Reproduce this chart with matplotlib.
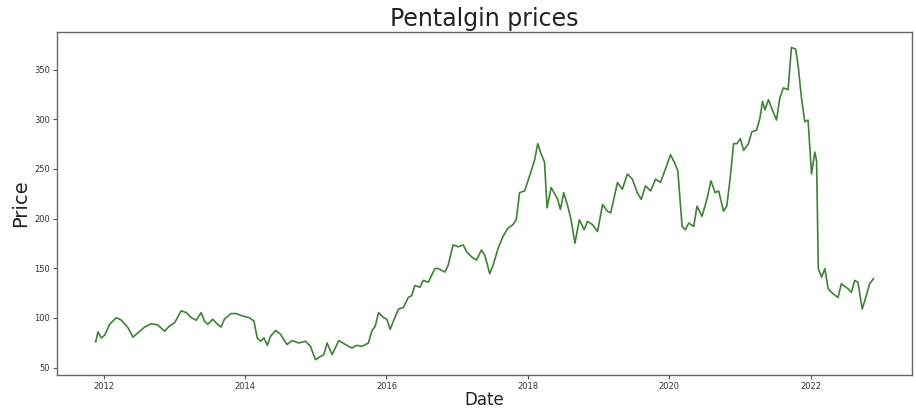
import matplotlib
matplotlib.use("Agg")
import matplotlib.pyplot as plt
import pandas as pd

dates = [
    "2011-11-20", "2011-12-02", "2011-12-19", "2012-01-06", "2012-02-01", "2012-03-06",
    "2012-04-01", "2012-05-05", "2012-05-31", "2012-06-25", "2012-07-30", "2012-09-02",
    "2012-10-06", "2012-11-10", "2012-12-05", "2013-01-01", "2013-02-04", "2013-03-02",
    "2013-03-28", "2013-04-23", "2013-05-18", "2013-06-04", "2013-06-21", "2013-07-17",
    "2013-08-03", "2013-08-29", "2013-09-15", "2013-10-19", "2013-11-14", "2013-12-18",
    "2014-01-21", "2014-02-15", "2014-03-04", "2014-03-22", "2014-04-08", "2014-04-25",
    "2014-05-12", "2014-06-07", "2014-07-03", "2014-08-05", "2014-08-31", "2014-10-05",
    "2014-11-08", "2014-12-04", "2014-12-30", "2015-01-25", "2015-02-11", "2015-02-28",
    "2015-03-26", "2015-04-29", "2015-06-03", "2015-07-07", "2015-08-01", "2015-08-27",
    "2015-09-30", "2015-10-17", "2015-11-04", "2015-11-21", "2015-12-17", "2016-01-03",
    "2016-01-20", "2016-02-06", "2016-03-03", "2016-03-28", "2016-04-23", "2016-05-10",
    "2016-05-27", "2016-06-22", "2016-07-09", "2016-08-04", "2016-08-21", "2016-09-07",
    "2016-09-24", "2016-10-29", "2016-11-15", "2016-12-10", "2017-01-06", "2017-02-01",
    "2017-02-18", "2017-03-16", "2017-04-10", "2017-05-06", "2017-05-23", "2017-06-18",
    "2017-07-05", "2017-07-31", "2017-08-25", "2017-09-20", "2017-10-16", "2017-11-02",
    "2017-11-19", "2017-12-15", "2018-01-10", "2018-02-04", "2018-02-21", "2018-03-10",
    "2018-03-28", "2018-04-10", "2018-05-01", "2018-06-04", "2018-06-18", "2018-07-05",
    "2018-07-26", "2018-08-12", "2018-09-01", "2018-09-24", "2018-10-19", "2018-11-05",
    "2018-12-01", "2018-12-27", "2019-01-22", "2019-02-16", "2019-03-05", "2019-04-09",
    "2019-05-04", "2019-05-30", "2019-06-25", "2019-07-20", "2019-08-10", "2019-09-01",
    "2019-09-27", "2019-10-23", "2019-11-17", "2019-12-13", "2020-01-08", "2020-01-28",
    "2020-02-15", "2020-03-08", "2020-03-25", "2020-04-11", "2020-05-07", "2020-05-24",
    "2020-06-19", "2020-07-14", "2020-08-04", "2020-08-26", "2020-09-13", "2020-10-08",
    "2020-10-25", "2020-11-11", "2020-11-29", "2020-12-16", "2021-01-03", "2021-01-20",
    "2021-02-14", "2021-03-03", "2021-03-28", "2021-04-14", "2021-04-28", "2021-05-10",
    "2021-05-28", "2021-06-14", "2021-07-09", "2021-07-26", "2021-08-13", "2021-09-07",
    "2021-09-24", "2021-10-16", "2021-10-29", "2021-11-15", "2021-12-02", "2021-12-19",
    "2022-01-06", "2022-01-23", "2022-02-01", "2022-02-10", "2022-02-27", "2022-03-16",
    "2022-04-02", "2022-04-28", "2022-05-23", "2022-06-09", "2022-07-14", "2022-07-31",
    "2022-08-17", "2022-09-03", "2022-09-25", "2022-10-16", "2022-11-02", "2022-11-22",
]

prices = [
    75.8, 86.0, 79.9, 82.7, 93.9, 100.3,
    97.7, 90.1, 80.6, 85.0, 90.8, 94.2,
    92.9, 86.7, 91.8, 95.2, 107.1, 105.4,
    100.3, 97.7, 105.4, 96.9, 93.6, 98.7,
    95.2, 90.8, 98.7, 104.4, 104.4, 102.0,
    100.3, 96.9, 79.9, 76.5, 79.9, 72.4,
    81.6, 87.4, 83.4, 73.2, 77.2, 74.8,
    76.5, 71.4, 57.9, 61.2, 63.0, 74.8,
    63.0, 77.2, 73.2, 69.7, 72.4, 71.4,
    74.8, 86.7, 91.8, 105.4, 100.3, 98.7,
    88.5, 96.9, 108.9, 110.5, 120.7, 122.4,
    132.7, 130.9, 137.8, 136.0, 142.9, 149.7,
    149.7, 146.2, 153.1, 173.5, 171.7, 173.5,
    166.6, 161.5, 158.2, 168.4, 163.3, 144.6,
    153.1, 170.1, 181.9, 190.5, 193.9, 199.0,
    226.2, 227.9, 243.2, 258.5, 275.5, 265.3,
    256.8, 210.9, 231.3, 219.4, 209.2, 226.2,
    212.6, 199.0, 175.2, 199.0, 188.8, 197.3,
    193.9, 187.0, 214.3, 207.5, 205.8, 236.4,
    229.6, 244.9, 239.8, 226.2, 219.4, 233.0,
    227.9, 239.8, 236.4, 250.0, 264.3, 256.8,
    248.3, 192.1, 188.8, 195.6, 192.1, 212.6,
    202.3, 219.4, 238.1, 226.2, 227.9, 207.5,
    212.6, 239.8, 275.5, 275.5, 280.6, 268.7,
    275.5, 287.4, 289.1, 301.0, 318.1, 309.5,
    319.7, 311.2, 299.3, 321.4, 331.6, 329.9,
    372.4, 370.7, 353.8, 321.4, 297.6, 299.3,
    244.9, 267.0, 258.5, 149.7, 141.1, 149.7,
    129.3, 124.2, 120.7, 134.4, 129.3, 125.8,
    137.8, 136.0, 108.9, 122.4, 134.4, 139.5,
]

title = "Pentalgin prices"
xlabel = "Date"
ylabel = "Price"

x = pd.to_datetime(dates)

fig = plt.figure(figsize=(9.16, 4.08), dpi=100)
ax = fig.add_axes([0.062, 0.08, 0.934, 0.842])
ax.plot(x, prices, color="#3f8236", linewidth=1.2)
ax.set_title(title, fontsize=17, pad=4, color="#222222")
ax.set_xlabel(xlabel, fontsize=12, labelpad=0, color="#222222")
ax.set_ylabel(ylabel, fontsize=14, labelpad=3, color="#222222")
ax.tick_params(axis="both", labelsize=6, length=3, pad=2, color="#555555", labelcolor="#333333")
for s in ax.spines.values():
    s.set_color("#666666")
    s.set_linewidth(1.0)
fig.savefig("out.png", dpi=100)
